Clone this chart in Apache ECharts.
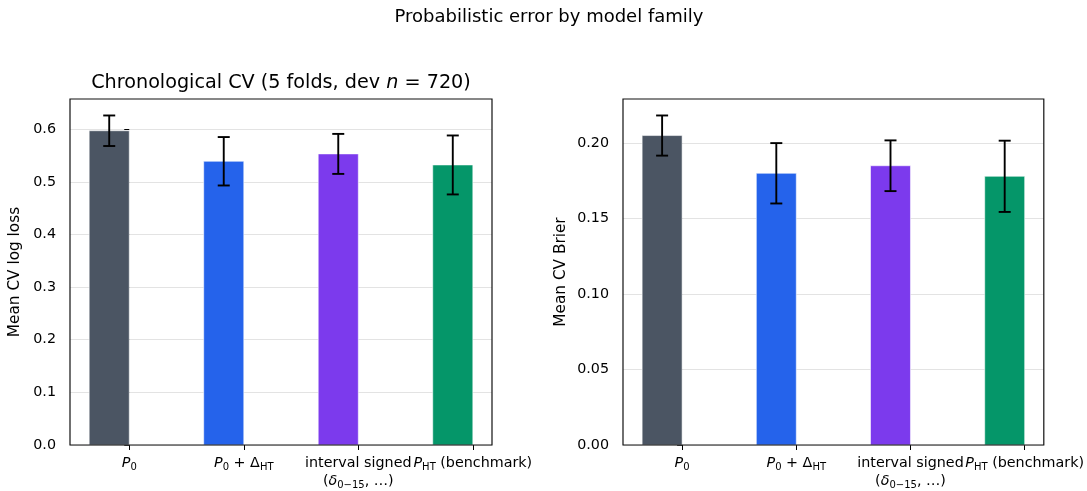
<!DOCTYPE html>
<html>
<head>
<meta charset="utf-8">
<script src="https://cdn.jsdelivr.net/npm/echarts@6/dist/echarts.min.js"></script>
<style>
  html, body { margin: 0; padding: 0; background: #fff; }
  #chart { width: 1087px; height: 491px; }
</style>
</head>
<body>
<div id="chart"></div>
<script>
// Model families and their cross-validated scores (mean ± spread over folds)
const models = ['P0', 'P0 + ΔHT', 'interval signed (δ0−15, …)', 'PHT (benchmark)'];
const tickLabels = [
  '{i|P}{s|0}',
  '{i|P}{s|0} + Δ{s|HT}',
  'interval signed\n({i|δ}{s|0−15}, …)',
  '{i|P}{s|HT} (benchmark)'
];
const logLossMean = [0.597, 0.539, 0.553, 0.532];
const logLossErr  = [0.029, 0.046, 0.038, 0.056];
const brierMean   = [0.205, 0.180, 0.185, 0.178];
const brierErr    = [0.0133, 0.020, 0.0168, 0.0236];
const barColors   = ['#4b5563', '#2563eb', '#7c3aed', '#059669'];
const logLossTicks = [0, 0.1, 0.2, 0.3, 0.4, 0.5, 0.6];
const brierTicks   = [0, 0.05, 0.10, 0.15, 0.20];

const FONT = 'DejaVu Sans';
const TICK_FS = 14.3;
const BAR_W = 0.35;           // bar width in category units; bars sit left of their tick
const CAP = 6;                // half-width of error-bar caps, px
const n = models.length;
const xSpan = (n - 1) + BAR_W;
const xMin = -BAR_W - 0.05 * xSpan;
const xMax = (n - 1) + 0.05 * xSpan;
const positions = models.map((_, i) => i);

const richLabel = {
  i: { fontFamily: FONT, fontSize: TICK_FS, fontStyle: 'italic', color: '#000', lineHeight: 18 },
  s: { fontFamily: FONT, fontSize: 10, color: '#000', lineHeight: 10, verticalAlign: 'bottom' }
};

function yTop(means, errs) {
  return Math.max(...means.map((m, i) => m + errs[i])) * 1.05;
}

function makeXAxis(gridIndex) {
  return {
    type: 'value', gridIndex, min: xMin, max: xMax,
    axisLine: { show: false },
    splitLine: { show: false },
    axisTick: { show: true, length: 5, customValues: positions, lineStyle: { color: '#000', width: 1 } },
    axisLabel: {
      customValues: positions,
      formatter: v => tickLabels[Math.round(v)],
      fontFamily: FONT, fontSize: TICK_FS, color: '#000', lineHeight: 18, margin: 9,
      rich: richLabel
    }
  };
}

function makeYAxis(gridIndex, name, ticks, max, digits, gap) {
  return {
    type: 'value', gridIndex, min: 0, max,
    name, nameLocation: 'middle', nameGap: gap,
    nameTextStyle: { fontFamily: FONT, fontSize: 15.3, color: '#000' },
    axisLine: { show: false },
    axisTick: { show: true, length: 5, customValues: ticks, lineStyle: { color: '#000', width: 1 } },
    axisLabel: {
      customValues: ticks,
      formatter: v => v.toFixed(digits),
      fontFamily: FONT, fontSize: TICK_FS, color: '#000', margin: 14
    },
    splitLine: { show: true, lineStyle: { color: '#e3e3e3', width: 1 } }
  };
}

function barSeries(idx, means) {
  return {
    type: 'custom', xAxisIndex: idx, yAxisIndex: idx,
    data: means.map((m, i) => [i, m]),
    z: 2,
    renderItem(params, api) {
      const i = api.value(0);
      const tl = api.coord([i - BAR_W, api.value(1)]);
      const br = api.coord([i, 0]);
      return {
        type: 'rect',
        shape: { x: tl[0], y: tl[1], width: br[0] - tl[0], height: br[1] - tl[1] },
        style: { fill: barColors[params.dataIndex], stroke: 'rgba(255,255,255,0.7)', lineWidth: 0.8 }
      };
    }
  };
}

function errSeries(idx, means, errs) {
  return {
    type: 'custom', xAxisIndex: idx, yAxisIndex: idx,
    data: means.map((m, i) => [i - BAR_W / 2, m, errs[i]]),
    z: 3,
    renderItem(params, api) {
      const x = api.value(0), m = api.value(1), e = api.value(2);
      const hi = api.coord([x, m + e]);
      const lo = api.coord([x, m - e]);
      const st = { stroke: '#000', lineWidth: 1.9 };
      return {
        type: 'group',
        children: [
          { type: 'line', shape: { x1: hi[0], y1: hi[1], x2: lo[0], y2: lo[1] }, style: st },
          { type: 'line', shape: { x1: hi[0] - CAP, y1: hi[1], x2: hi[0] + CAP, y2: hi[1] }, style: st },
          { type: 'line', shape: { x1: lo[0] - CAP, y1: lo[1], x2: lo[0] + CAP, y2: lo[1] }, style: st }
        ]
      };
    }
  };
}

const chart = echarts.init(document.getElementById('chart'), null, { renderer: 'canvas' });
chart.setOption({
  animation: false,
  backgroundColor: '#fff',
  textStyle: { fontFamily: FONT },
  graphic: [
    {
      type: 'text', x: 549, y: 17,
      style: { text: 'Probabilistic error by model family', fontFamily: FONT, fontSize: 18,
               fill: '#000', align: 'center', verticalAlign: 'middle' }
    },
    {
      type: 'text', x: 281, y: 83,
      style: {
        text: 'Chronological CV (5 folds, dev {i|n} = 720)',
        fontFamily: FONT, fontSize: 19.2, fill: '#000', align: 'center', verticalAlign: 'middle',
        rich: { i: { fontFamily: FONT, fontSize: 19.2, fontStyle: 'italic', fill: '#000' } }
      }
    }
  ],
  grid: [
    { left: 70, top: 99, width: 422, height: 346, show: true, borderColor: '#111', borderWidth: 1.2, backgroundColor: 'transparent', z: 5 },
    { left: 623, top: 99, width: 422, height: 346, show: true, borderColor: '#111', borderWidth: 1.2, backgroundColor: 'transparent', z: 5 }
  ],
  xAxis: [makeXAxis(0), makeXAxis(1)],
  yAxis: [
    makeYAxis(0, 'Mean CV log loss', logLossTicks, yTop(logLossMean, logLossErr), 1, 47),
    makeYAxis(1, 'Mean CV Brier', brierTicks, yTop(brierMean, brierErr), 2, 54)
  ],
  series: [
    barSeries(0, logLossMean), errSeries(0, logLossMean, logLossErr),
    barSeries(1, brierMean), errSeries(1, brierMean, brierErr)
  ]
});
</script>
</body>
</html>
